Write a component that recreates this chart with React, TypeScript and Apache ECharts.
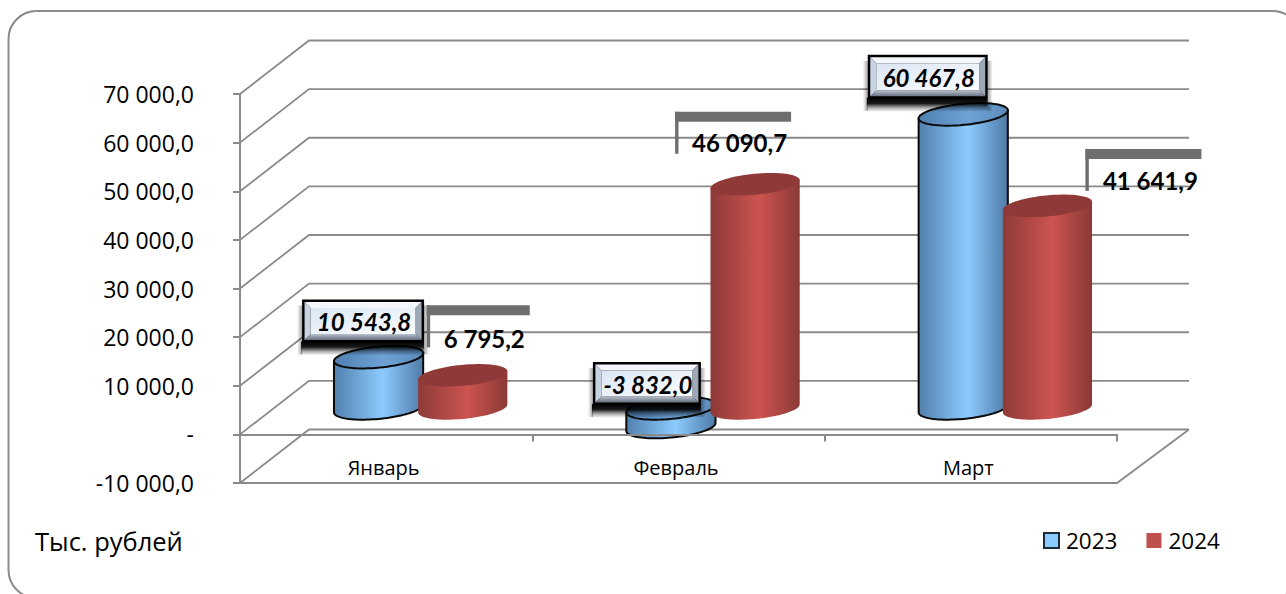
import React, { useEffect, useRef } from "react";
import * as echarts from "echarts";

const categories = ["Январь", "Февраль", "Март"];
const values2023 = [10543.8, -3832.0, 60467.8];
const values2024 = [6795.2, 46090.7, 41641.9];
const axisTicks = [70000, 60000, 50000, 40000, 30000, 20000, 10000, 0, -10000];
const unitLabel = "Тыс. рублей";

const GRID = { left: 240, top: 94, width: 877, height: 389 };
const DEPTH_X = 69;
const DEPTH_Y = 53.5;
const BACK_EXTRA = 3;
const LINE = "#8a8a8a";
const CYL_A = 44.8;
const CYL_B = 10.5;
const CYL_ROT = (-5.5 * Math.PI) / 180;
const CYL_SHIFT = 26;
const FONT_AXIS = "'Open Sans'";
const FONT_LABEL = "Lato";

const boxStyle2023 = [
  { dx: -15.5, dy: -36.2, w: 122, h: 43 },
  { dx: -24, dy: -25, w: 108, h: 43 },
  { dx: -35.5, dy: -37.5, w: 120, h: 44 },
];
const bracketStyle2024 = [
  { dx: -36, dy: -70, w: 103, tx: 57.5, ty: 33 },
  { dx: -80, dy: -72.5, w: 116, tx: 64.5, ty: 31 },
  { dx: 38, dy: -57, w: 116, tx: 65, ty: 32 },
];

const fmt = (v: number) => {
  const neg = v < 0;
  const [i, d] = Math.abs(v).toFixed(1).split(".");
  return (neg ? "-" : "") + i.replace(/\B(?=(\d{3})+$)/g, " ") + "," + d;
};

const hGrad = (a: string, b: string, c: string, mid = 0.55) =>
  new echarts.graphic.LinearGradient(0, 0, 1, 0, [
    { offset: 0, color: a },
    { offset: mid, color: b },
    { offset: 1, color: c },
  ]);

const ROT_C = Math.cos(CYL_ROT);
const ROT_S = Math.sin(CYL_ROT);
const T_RIGHT = Math.atan2(-CYL_B * ROT_S, CYL_A * ROT_C);

function ellipsePoint(cx: number, cy: number, t: number) {
  const ct = Math.cos(t);
  const st = Math.sin(t);
  return [cx + CYL_A * ct * ROT_C - CYL_B * st * ROT_S, cy + CYL_A * ct * ROT_S + CYL_B * st * ROT_C];
}

function ellipseArc(cx: number, cy: number, from: number, to: number, steps = 48) {
  const pts: number[][] = [];
  for (let k = 0; k <= steps; k++) pts.push(ellipsePoint(cx, cy, from + ((to - from) * k) / steps));
  return pts;
}

const toPath = (pts: number[][]) =>
  pts.map((p, i) => `${i ? "L" : "M"}${p[0].toFixed(2)} ${p[1].toFixed(2)}`).join("") + "Z";

function cylinderCenter(api: any, seriesSign: number) {
  const cat = api.value(0);
  const val = api.value(1);
  const end = api.coord([cat, val]);
  const zero = api.coord([cat, 0]);
  const band = api.size([1, 0])[0];
  const cx = end[0] + DEPTH_X / 2 + seriesSign * band * 0.144;
  return { cat, val, cx, yEnd: end[1] - CYL_SHIFT, yZero: zero[1] - CYL_SHIFT };
}

function renderCylinder(seriesSign: number, body: any, top: any, stroke: any) {
  return (_p: any, api: any) => {
    const { val, cx, yEnd, yZero } = cylinderCenter(api, seriesSign);
    const yt = val >= 0 ? yEnd : yZero;
    const yb = val >= 0 ? yZero : yEnd;
    const pL = ellipsePoint(cx, yt, T_RIGHT + Math.PI);
    const pR = ellipsePoint(cx, yt, T_RIGHT);
    const bodyPts = [pL, ...ellipseArc(cx, yb, T_RIGHT + Math.PI, T_RIGHT), pR];
    const topPts = ellipseArc(cx, yt, 0, Math.PI * 2, 72);
    return {
      type: "group",
      children: [
        { type: "path", shape: { pathData: toPath(bodyPts) }, style: { fill: body, stroke, lineWidth: 2 } },
        { type: "path", shape: { pathData: toPath(topPts) }, style: { fill: top, stroke, lineWidth: 2 } },
      ],
    };
  };
}

function renderBoxLabel(_p: any, api: any) {
  const { cat, val, cx, yEnd, yZero } = cylinderCenter(api, -1);
  const st = boxStyle2023[cat];
  const anchorY = val >= 0 ? yEnd : yZero;
  const mx = cx + st.dx;
  const my = anchorY + st.dy;
  const l = mx - st.w / 2;
  const t = my - st.h / 2;
  const r = l + st.w;
  const b = t + st.h;
  const i = 2.5;
  const bv = 6;
  const poly = (pts: number[][], fill: any) => ({ type: "polygon", shape: { points: pts }, style: { fill } });
  const fade = (x0: number, y0: number, x1: number, y1: number, stops: number[][]) =>
    new echarts.graphic.LinearGradient(
      x0,
      y0,
      x1,
      y1,
      stops.map(([offset, alpha]) => ({ offset, color: `rgba(0,0,0,${alpha})` }))
    );
  return {
    type: "group",
    children: [
      {
        type: "rect",
        shape: { x: l - 1, y: b - 1, width: st.w + 1, height: 14 },
        style: { fill: fade(0, 0, 0, 1, [[0, 1], [0.4, 0.9], [0.7, 0.35], [1, 0]]) },
      },
      {
        type: "rect",
        shape: { x: l - 5, y: t + 6, width: 5, height: st.h + 6 },
        style: { fill: fade(1, 0, 0, 0, [[0, 0.35], [1, 0]]) },
      },
      {
        type: "rect",
        shape: { x: r, y: t + 6, width: 5, height: st.h + 6 },
        style: { fill: fade(0, 0, 1, 0, [[0, 0.35], [1, 0]]) },
      },
      { type: "rect", shape: { x: l, y: t, width: st.w, height: st.h }, style: { fill: "#000" } },
      poly([[l + i, t + i], [r - i, t + i], [r - i - bv, t + i + bv], [l + i + bv, t + i + bv]], "#f3f7fc"),
      poly([[l + i, t + i], [l + i + bv, t + i + bv], [l + i + bv, b - i - bv], [l + i, b - i]], "#c8d3e2"),
      poly([[r - i, t + i], [r - i, b - i], [r - i - bv, b - i - bv], [r - i - bv, t + i + bv]], "#9ea9b8"),
      poly(
        [[l + i, b - i], [l + i + bv, b - i - bv], [r - i - bv, b - i - bv], [r - i, b - i]],
        new echarts.graphic.LinearGradient(0, 0, 0, 1, [
          { offset: 0, color: "#b9c2ce" },
          { offset: 1, color: "#666f7d" },
        ])
      ),
      {
        type: "rect",
        shape: { x: l + i + bv, y: t + i + bv, width: st.w - 2 * (i + bv), height: st.h - 2 * (i + bv) },
        style: {
          fill: new echarts.graphic.LinearGradient(0, 0, 1, 1, [
            { offset: 0, color: "#dbe6f3" },
            { offset: 1, color: "#fbfdff" },
          ]),
        },
      },
      {
        type: "text",
        style: {
          x: mx + 1,
          y: my + 1,
          text: fmt(val),
          fill: "#000",
          font: `italic bold 24px ${FONT_LABEL}`,
          textAlign: "center",
          verticalAlign: "middle",
        },
      },
    ],
  };
}

function renderBracketLabel(_p: any, api: any) {
  const { cat, val, cx, yEnd } = cylinderCenter(api, 1);
  const st = bracketStyle2024[cat];
  const l = cx + st.dx;
  const t = yEnd + st.dy;
  return {
    type: "group",
    children: [
      { type: "rect", shape: { x: l, y: t, width: st.w, height: 10 }, style: { fill: "#6e6e6e" } },
      { type: "rect", shape: { x: l, y: t, width: 3.4, height: 42 }, style: { fill: "#6e6e6e" } },
      {
        type: "text",
        style: {
          x: l + st.tx,
          y: t + st.ty,
          text: fmt(val),
          fill: "#000",
          font: `bold 24px ${FONT_LABEL}`,
          textAlign: "center",
          verticalAlign: "middle",
        },
      },
    ],
  };
}

function renderWall(params: any, api: any) {
  const tick = api.value(0);
  const cs = params.coordSys;
  const y = api.coord([0, tick])[1];
  const x0 = cs.x;
  const xBackL = x0 + DEPTH_X;
  const xBackR = x0 + cs.width + DEPTH_X + BACK_EXTRA;
  const style = { fill: "none", stroke: LINE, lineWidth: 1.8 };
  const children: any[] = [
    { type: "polyline", shape: { points: [[x0, y], [xBackL, y - DEPTH_Y], [xBackR, y - DEPTH_Y]] }, style },
  ];
  if (tick === axisTicks[axisTicks.length - 1]) {
    children.push({
      type: "polyline",
      shape: { points: [[x0, y], [x0 + cs.width, y], [xBackR, y - DEPTH_Y]] },
      style,
    });
  }
  return { type: "group", children };
}

export default function App() {
  const ref = useRef<HTMLDivElement>(null);
  useEffect(() => {
    document.body.style.margin = "0";
    const chart = echarts.init(ref.current!, null, { renderer: "svg" });
    const blueBody = hGrad("#527fae", "#8ccbff", "#4f7aa6");
    const blueTop = hGrad("#4f7fb0", "#6ea2d6", "#5c8cba");
    const redBody = hGrad("#8d3a38", "#cc5450", "#8a3937");
    const redTop = "#8f3a38";
    const toData = (vals: number[]) => vals.map((v, i) => [i, v]);
    chart.setOption({
      animation: false,
      backgroundColor: "#fff",
      grid: { ...GRID, containLabel: false },
      legend: {
        left: 1043,
        top: 529,
        padding: 0,
        itemWidth: 15,
        itemHeight: 15,
        itemGap: 29,
        selectedMode: false,
        textStyle: { fontFamily: FONT_AXIS, fontSize: 22.5, color: "#000", padding: [0, 0, 0, 2] },
        data: [
          { name: "2023", icon: "rect", itemStyle: { color: "#8ccbff", borderColor: "#1f2a38", borderWidth: 2 } },
          { name: "2024", icon: "rect", itemStyle: { color: "#c0504d", borderWidth: 0 } },
        ],
      },
      xAxis: {
        type: "category",
        data: categories,
        z: 5,
        axisLine: { onZero: true, lineStyle: { color: LINE, width: 2 } },
        axisTick: { show: true, length: 7, lineStyle: { color: LINE, width: 2 } },
        axisLabel: { margin: -26, fontFamily: FONT_AXIS, fontSize: 20, color: "#000", padding: [0, 5, 0, 0] },
        splitLine: { show: false },
      },
      yAxis: {
        type: "value",
        min: axisTicks[axisTicks.length - 1],
        max: axisTicks[0],
        interval: 10000,
        axisLine: { show: true, lineStyle: { color: LINE, width: 2 } },
        axisTick: { show: true, length: 7, lineStyle: { color: LINE, width: 2 } },
        splitLine: { show: false },
        axisLabel: {
          margin: 46,
          fontFamily: FONT_AXIS,
          fontSize: 23,
          color: "#000",
          formatter: (v: number) => (v === 0 ? "-" : fmt(v)),
        },
      },
      graphic: [
        {
          type: "rect",
          z: -1,
          shape: { x: 8.5, y: 11, width: 1292, height: 587, r: 28 },
          style: { fill: "none", stroke: "#8a8a8a", lineWidth: 2 },
        },
        {
          type: "text",
          x: 35,
          y: 541,
          style: {
            text: unitLabel,
            fill: "#000",
            font: `25.5px ${FONT_AXIS}`,
            textAlign: "left",
            textVerticalAlign: "middle",
          },
        },
      ],
      series: [
        {
          type: "custom",
          name: "walls",
          z: 1,
          silent: true,
          data: axisTicks.map((t) => [t]),
          encode: { y: 0 },
          renderItem: renderWall,
        },
        {
          type: "custom",
          name: "2023",
          z: 2,
          silent: true,
          itemStyle: { color: "#8ccbff" },
          data: toData(values2023),
          encode: { x: 0, y: 1 },
          renderItem: renderCylinder(-1, blueBody, blueTop, "#0a0a0a"),
        },
        {
          type: "custom",
          name: "2024",
          z: 3,
          silent: true,
          itemStyle: { color: "#c0504d" },
          data: toData(values2024),
          encode: { x: 0, y: 1 },
          renderItem: renderCylinder(1, redBody, redTop, "none"),
        },
        {
          type: "custom",
          name: "labels2023",
          z: 6,
          silent: true,
          data: toData(values2023),
          encode: { x: 0, y: 1 },
          renderItem: renderBoxLabel,
        },
        {
          type: "custom",
          name: "labels2024",
          z: 7,
          silent: true,
          data: toData(values2024),
          encode: { x: 0, y: 1 },
          renderItem: renderBracketLabel,
        },
      ],
    });
    return () => chart.dispose();
  }, []);
  return <div ref={ref} style={{ position: "absolute", left: 0, top: 0, width: 1286, height: 594 }} />;
}
